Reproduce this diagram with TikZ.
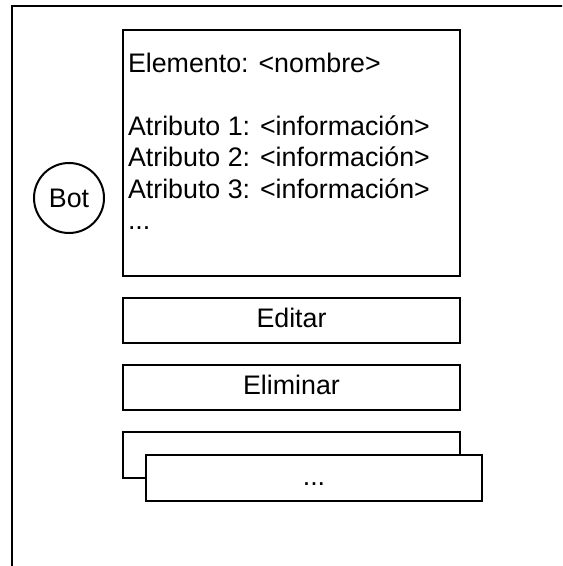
\documentclass[tikz,border=0pt]{standalone}
\usepackage{fontspec}
\setmainfont{Liberation Sans}

\begin{document}
\begin{tikzpicture}[x=0.5pt, y=-0.5pt, line width=1pt]
        \tikzstyle{every node}=[inner sep=0pt, font=\fontsize{13.4}{15.7}\selectfont]
        \tikzstyle{boton}=[draw, fill=white, minimum width=168.5pt, minimum height=22.5pt, text height=9.7pt, text depth=2.7pt]
        \useasboundingbox (0,0) rectangle (562,566);
        \clip (0,0) rectangle (562,566);
        % marco de la pantalla
        \draw [line width=1.1pt] (12,600) |- (600,6);
        \node [draw, circle, minimum size=35pt] (bot) at (69,198) {Bot};
        \node [draw, minimum width=168.5pt, minimum height=123pt] (ficha) at (291.5,153) {};
        \node [anchor=north west, align=left] (datos) at (127,52) {Elemento: <nombre>\\[15.7pt]Atributo 1: <información>\\Atributo 2: <información>\\Atributo 3: <información>\\...};
        \node [boton] (editar) at (291.5,320.5) {Editar};
        \node [boton] (eliminar) at (291.5,387.5) {Eliminar};
        \node [boton, minimum height=23pt] (otro) at (291.5,455) {};
        \node [boton, minimum width=168pt, minimum height=23pt] (mas) at (314,478) {...};
    \end{tikzpicture}
\end{document}
